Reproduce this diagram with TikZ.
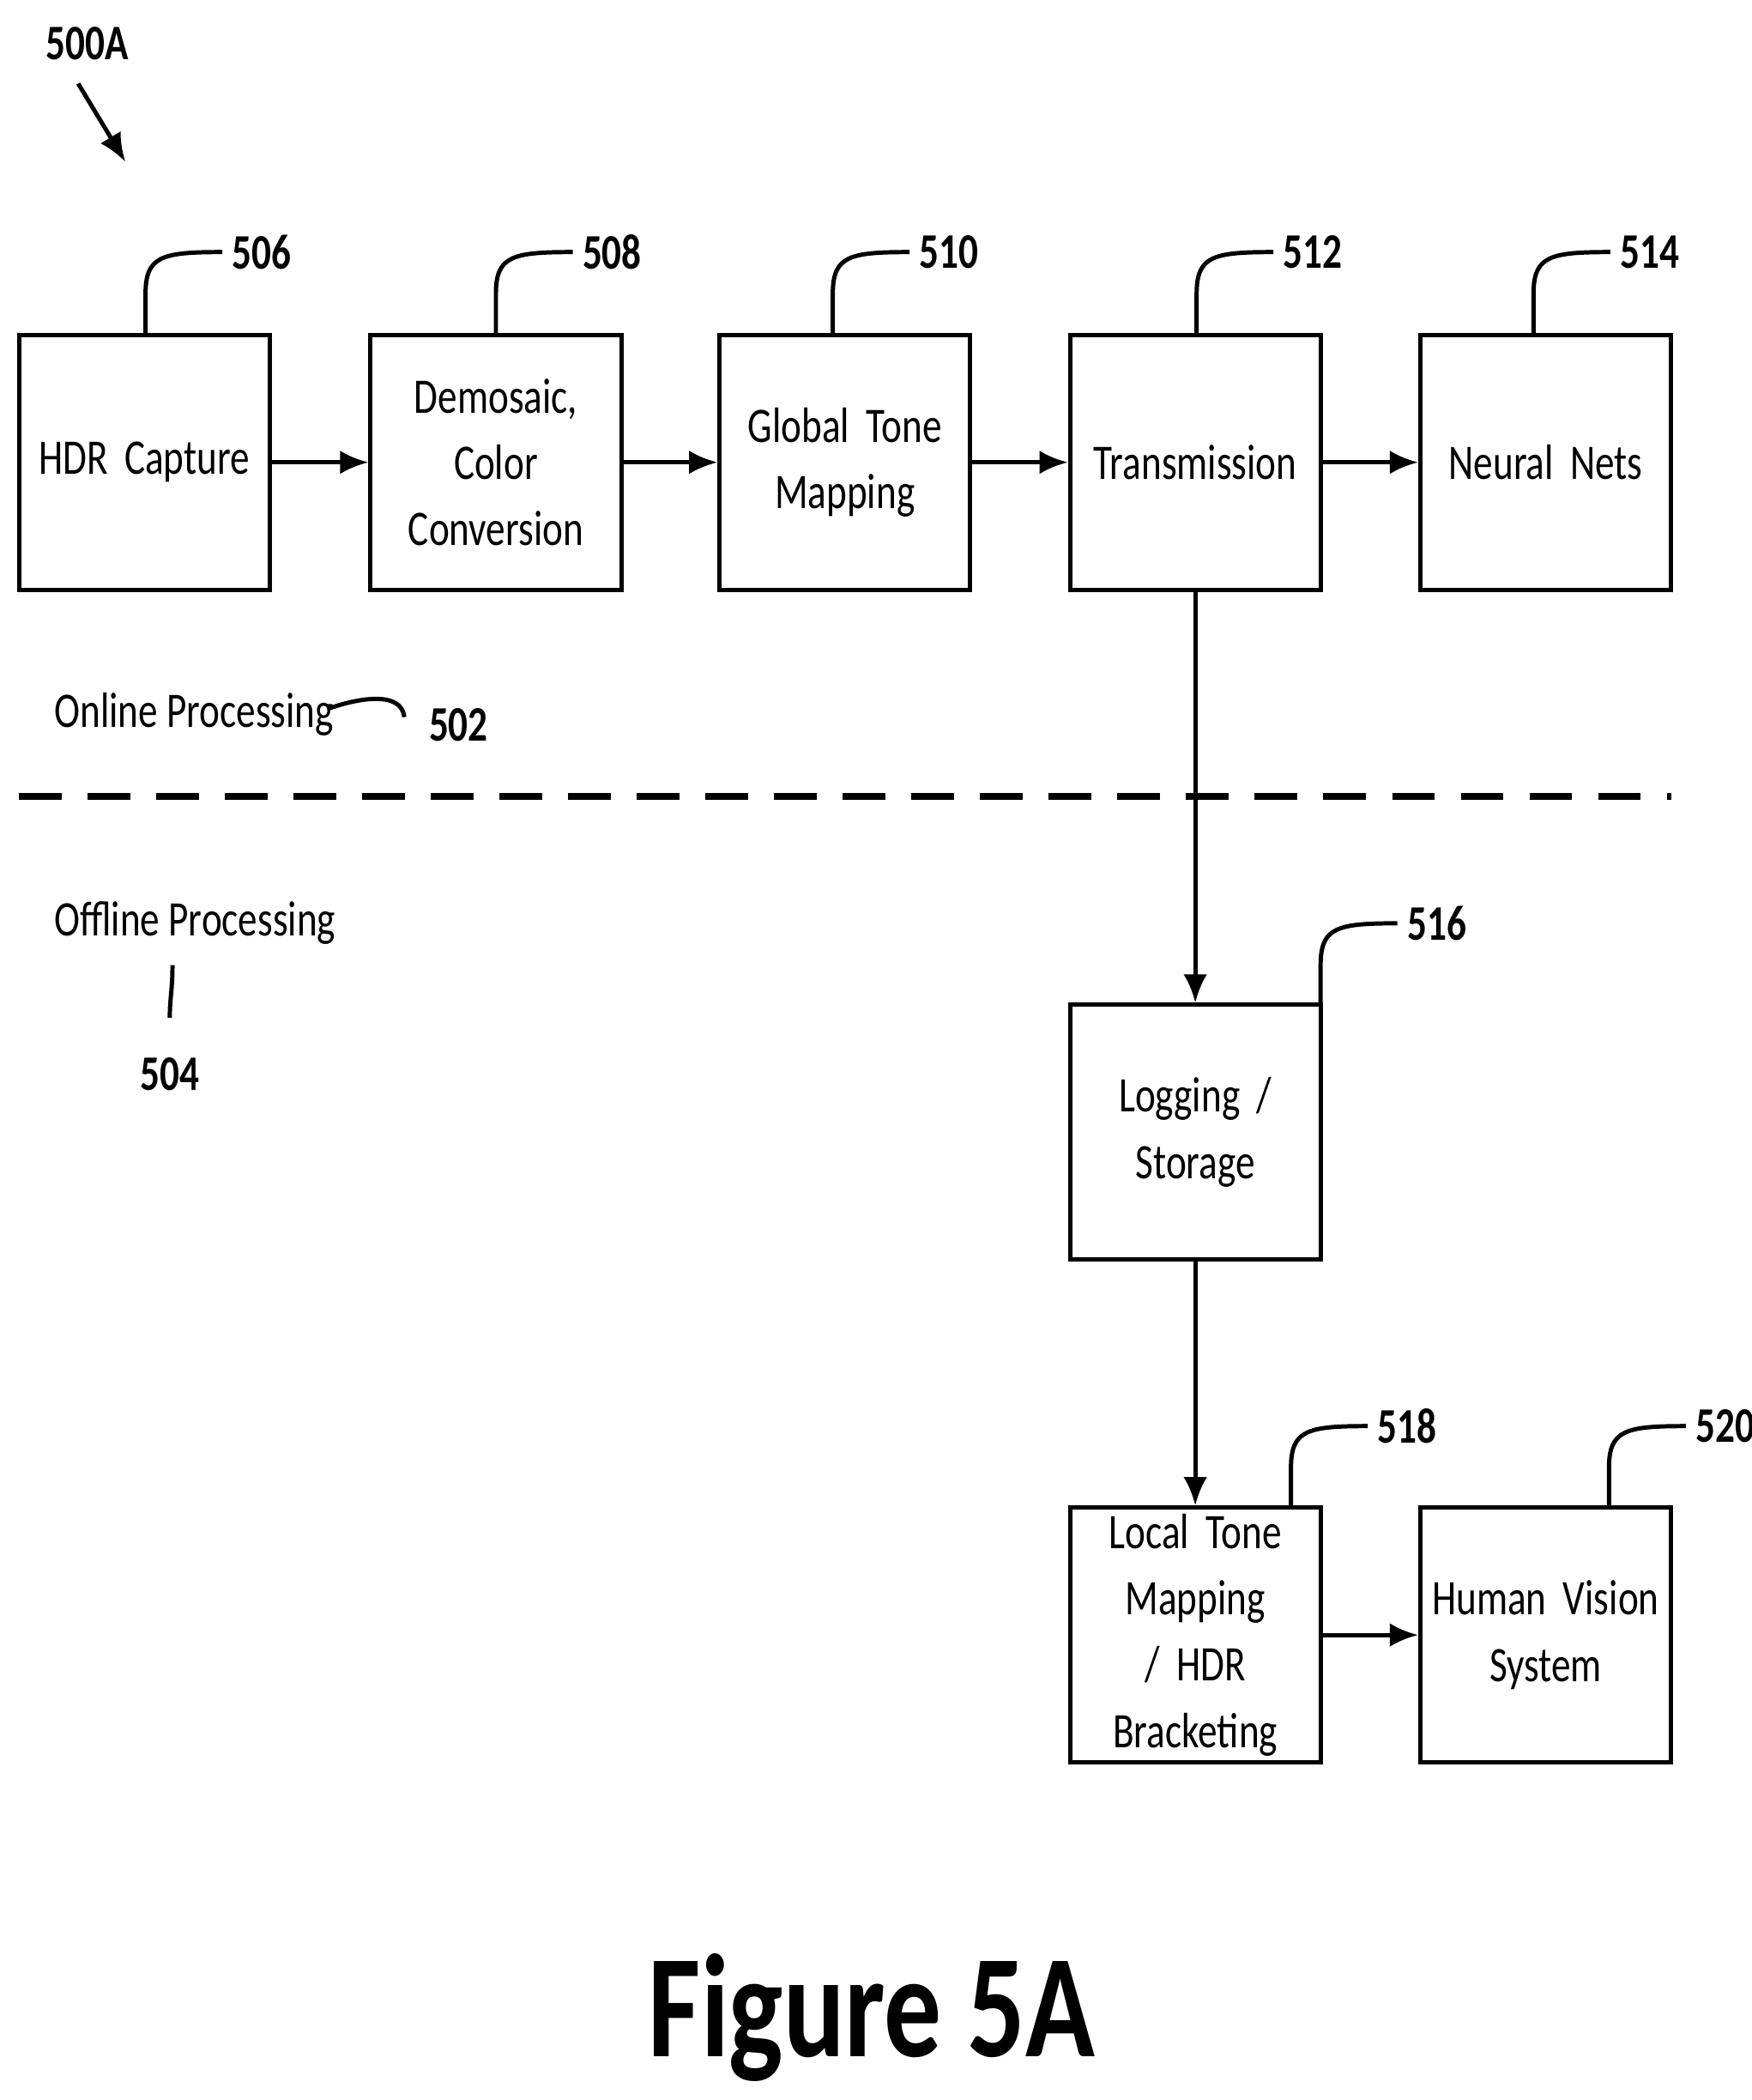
\documentclass[tikz,border=0pt]{standalone}
\usepackage{fontspec}
\setmainfont{Carlito}[FakeStretch=0.78]
\usetikzlibrary{arrows.meta}
\begin{document}
\begin{tikzpicture}[x=0.02cm,y=-0.02cm,
  box/.style={draw,line width=1.8pt,minimum width=3.72cm,minimum height=3.78cm,text width=3.5cm,align=center,font=\fontsize{21}{28}\selectfont,inner sep=0pt},
  num/.style={font=\bfseries\fontsize{21}{24}\selectfont,anchor=west,inner sep=0pt},
  lab/.style={font=\fontsize{21}{24}\selectfont,inner sep=0pt,anchor=west},
  arr/.style={line width=1.8pt,-{Latex[length=12pt,width=10pt]}},
  lead/.style={line width=1.8pt}]
\useasboundingbox (0,0) rectangle (1300,1558);
\node[box] (b506) at (107,343) {HDR Capture};
\node[box] (b508) at (368,343) {Demosaic, Color\\Conversion};
\node[box] (b510) at (627,343) {Global Tone\\Mapping};
\node[box] (b512) at (887,343) {Transmission};
\node[box] (b514) at (1147,343) {Neural Nets};
\node[box] (b516) at (887,840) {Logging /\\Storage};
\node[box] (b518) at (887,1213) {Local Tone\\Mapping / HDR\\Bracketing};
\node[box] (b520) at (1147,1213) {Human Vision\\System};
\draw[arr] (b506) -- (b508);
\draw[arr] (b508) -- (b510);
\draw[arr] (b510) -- (b512);
\draw[arr] (b512) -- (b514);
\draw[arr] (b512) -- (b516);
\draw[arr] (b516) -- (b518);
\draw[arr] (b518) -- (b520);
% leaders
\foreach \x/\y/\t in {108/248/506,368/248/508,618/248/510,888/248/512,1138/248/514,980/746/516,958/1119/518,1194/1119/520}{
  \coordinate (s\t) at (\x,\y);
  \coordinate (e\t) at (\x+57,\y-61);
  \draw[lead] (s\t) -- (\x,\y-30) .. controls (\x,\y-58) and (\x+12,\y-61) .. (e\t);
  \node[num] (n\t) at (\x+64,\y-61) {\t};
}
\node[num] (n500) at (34,32) {500A};
\coordinate (a1) at (58,62); \coordinate (a2) at (93,120);
\draw[arr] (a1) -- (a2);
\node[lab] (on) at (40,530) {Online Processing};
\coordinate (q1) at (243,526); \coordinate (q2) at (300,532);
\draw[lead] (q1) .. controls (265,518) and (298,512) .. (q2);
\node[num] (n502) at (318,538) {502};
\node[lab] (off) at (40,685) {Offline Processing};
\coordinate (r1) at (128,716); \coordinate (r2) at (126,755);
\draw[lead] (r1) .. controls (128,735) and (126,740) .. (r2);
\node[num,anchor=center] (n504) at (126,797) {504};
\coordinate (d1) at (14,591); \coordinate (d2) at (1240,591);
\draw[line width=3pt,dash pattern=on 18pt off 11pt] (d1) -- (d2);
\node[font=\bfseries\fontsize{62}{64}\selectfont] (fig) at (647,1497) {Figure 5A};
\end{tikzpicture}
\end{document}
